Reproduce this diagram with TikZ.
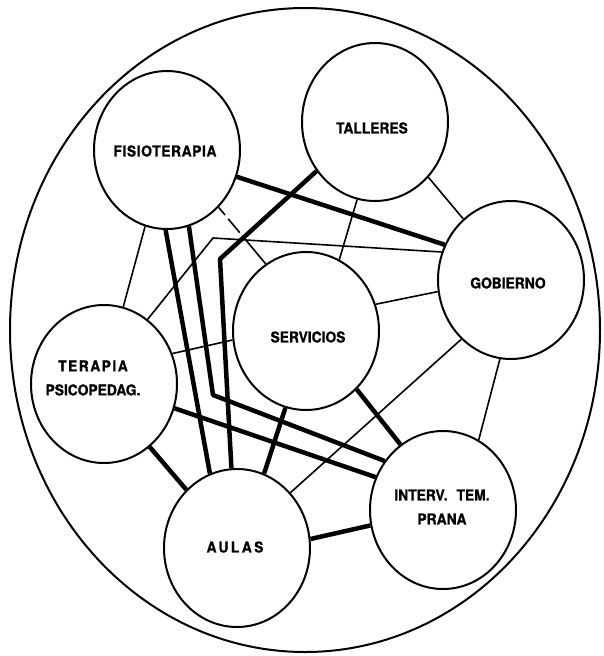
\documentclass[tikz,border=0pt]{standalone}
\usepackage{fontspec}
\setmainfont{TeX Gyre Heros}
\usetikzlibrary{shapes.geometric}

\tikzset{
  room/.style={ellipse, draw, line width=2pt, minimum width=146pt,
               minimum height=158pt, inner sep=0pt},
  campus/.style={ellipse, draw, line width=2pt, minimum width=590pt,
               minimum height=644pt, inner sep=0pt},
  lbl/.style={font=\fontsize{15}{24}\selectfont\bfseries\addfontfeatures{FakeStretch=0.92,FakeBold=1},
              align=center, inner sep=0pt},
  thinlink/.style={line width=1.6pt, line join=round},
  heavylink/.style={line width=4.5pt, line join=round},
  dashlink/.style={thinlink, dash pattern=on 10pt off 5pt on 18pt off 5pt on 200pt off 1pt},
}

\begin{document}
\begin{tikzpicture}[x=1pt, y=-1pt]
  \useasboundingbox (0,0) rectangle (603,656);

  % enclosing boundary
  \node[campus] (campus) at (305,330) {};

  % the seven areas
  \node[room] (fis) at (167,150) {};
  \node[room] (tal) at (375,122) {};
  \node[room] (gob) at (511,280) {};
  \node[room] (ser) at (306,331) {};
  \node[room] (ter) at (104,384) {};
  \node[room] (aul) at (237,548) {};
  \node[room] (int) at (443,510) {};

  % labels
  \node[lbl] (fisT) at (165,151) {\addfontfeature{LetterSpace=4}FISIOTERAPIA};
  \node[lbl] (talT) at (372,128) {TALLERES};
  \node[lbl] (gobT) at (508,283) {GOBIERNO};
  \node[lbl] (serT) at (308,337) {SERVICIOS};
  \node[lbl] (terT) at (93,378) {\addfontfeature{LetterSpace=10}TERAPIA\\PSICOPEDAG.};
  \node[lbl] (aulT) at (235,547) {\addfontfeature{LetterSpace=16}AULAS};
  \node[lbl] (intT) at (442,507) {INTERV.\hspace{0.6em}TEM.\\PRANA};

  % bend points of the routed links
  \coordinate (kfis) at (213,395);
  \coordinate (ktal) at (220,259);
  \coordinate (kter) at (213,238);

  % heavy links
  \draw[heavylink] (fis.-21.1) -- (gob.152.4);
  \draw[heavylink] (fis.269.3) -- (aul.110.4);
  \draw[heavylink] (fis.286.6) -- (kfis) -- (int.140.4);
  \draw[heavylink] (tal.220.1) -- (ktal) -- (aul.94.4);
  \draw[heavylink] (ser.255.8) -- (aul.70.6);
  \draw[heavylink] (ser.311.3) -- (int.123.5);
  \draw[heavylink] (ter.341.3) -- (int.154.1);
  \draw[heavylink] (ter.306.4) -- (aul.131.8);
  \draw[heavylink] (aul.7.8) -- (int.192.5);

  % light links
  \draw[thinlink] (fis.254.9) -- (ter.76.8);
  \draw[dashlink] (fis.312.9) -- (ser.121.4);
  \draw[thinlink] (tal.314) -- (gob.128.7);
  \draw[thinlink] (tal.257.7) -- (ser.65.7);
  \draw[thinlink] (ser.21.4) -- (gob.189.3);
  \draw[thinlink] (ter.24.5) -- (ser.187.8);
  \draw[thinlink] (ter.56.7) -- (kter) -- (gob.158.5);
  \draw[thinlink] (gob.230.8) -- (aul.46.1);
  \draw[thinlink] (gob.262.8) -- (int.63.8);
\end{tikzpicture}
\end{document}
